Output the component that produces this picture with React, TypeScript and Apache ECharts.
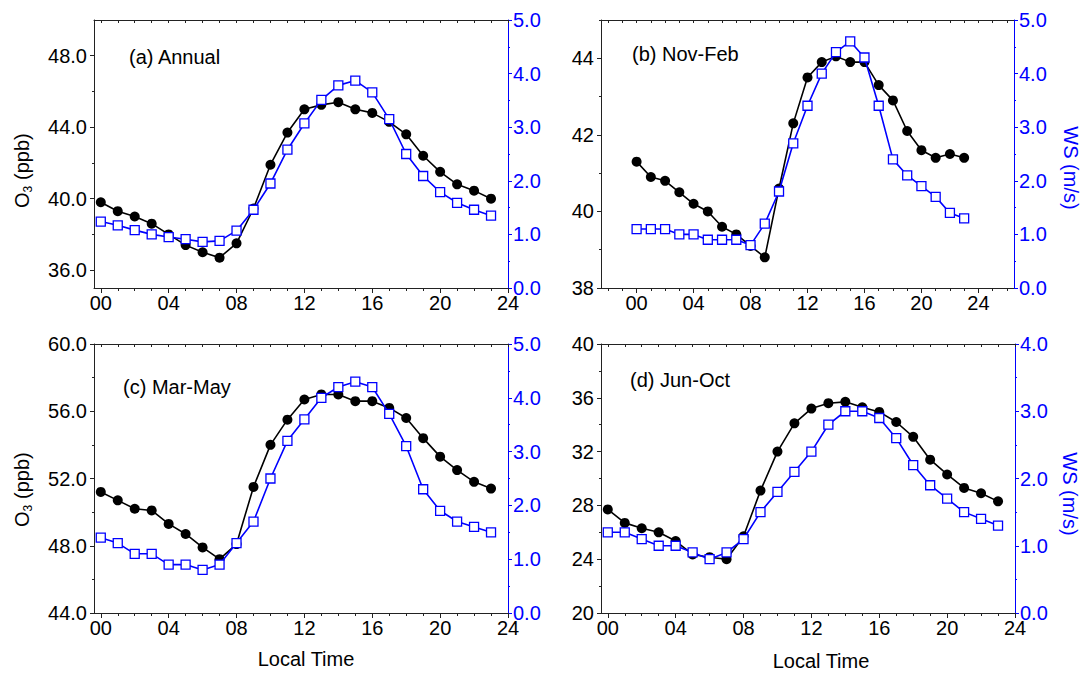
import React, { useEffect, useRef } from 'react';
import * as echarts from 'echarts';

// ---------- data ----------
const HOURS = [0, 1, 2, 3, 4, 5, 6, 7, 8, 9, 10, 11, 12, 13, 14, 15, 16, 17, 18, 19, 20, 21, 22, 23];
const X_TICKS = [0, 4, 8, 12, 16, 20, 24];

const O3_ANNUAL = [39.8, 39.3, 39.0, 38.6, 38.0, 37.4, 37.0, 36.7, 37.5, 39.45, 41.9, 43.7, 45.0, 45.25, 45.4, 45.0, 44.8, 44.3, 43.6, 42.4, 41.5, 40.8, 40.45, 40.0];
const WS_ANNUAL = [1.24, 1.17, 1.08, 1.0, 0.95, 0.91, 0.86, 0.88, 1.07, 1.46, 1.95, 2.58, 3.07, 3.51, 3.78, 3.87, 3.65, 3.15, 2.5, 2.09, 1.79, 1.59, 1.46, 1.35];

const O3_NOVFEB = [41.3, 40.9, 40.8, 40.5, 40.2, 40.0, 39.6, 39.4, 39.1, 38.8, 40.6, 42.3, 43.5, 43.9, 44.05, 43.9, 43.9, 43.3, 42.9, 42.1, 41.6, 41.4, 41.5, 41.4];
const WS_NOVFEB = [1.1, 1.1, 1.1, 1.0, 1.0, 0.9, 0.9, 0.9, 0.8, 1.2, 1.8, 2.7, 3.4, 4.0, 4.4, 4.6, 4.3, 3.4, 2.4, 2.1, 1.9, 1.7, 1.4, 1.3];

const O3_MARMAY = [51.2, 50.7, 50.2, 50.1, 49.3, 48.7, 47.9, 47.2, 48.1, 51.5, 54.0, 55.5, 56.7, 57.0, 57.0, 56.6, 56.6, 56.2, 55.6, 54.4, 53.3, 52.5, 51.8, 51.4];
const WS_MARMAY = [1.4, 1.3, 1.1, 1.1, 0.9, 0.9, 0.8, 0.9, 1.3, 1.7, 2.5, 3.2, 3.6, 4.0, 4.2, 4.3, 4.2, 3.7, 3.1, 2.3, 1.9, 1.7, 1.6, 1.5];

const O3_JUNOCT = [27.7, 26.7, 26.3, 26.0, 25.35, 24.35, 24.15, 24.0, 25.7, 29.1, 32.0, 34.1, 35.2, 35.6, 35.7, 35.3, 34.95, 34.2, 33.1, 31.4, 30.3, 29.3, 28.9, 28.3];
const WS_JUNOCT = [1.2, 1.2, 1.1, 1.0, 1.0, 0.9, 0.8, 0.9, 1.1, 1.5, 1.8, 2.1, 2.4, 2.8, 3.0, 3.0, 2.9, 2.6, 2.2, 1.9, 1.7, 1.5, 1.4, 1.3];

const TITLES = ['(a) Annual', '(b) Nov-Feb', '(c) Mar-May', '(d) Jun-Oct'];
const O3_LABELS_A = [36, 40, 44, 48];
const O3_MINOR_A = [38, 42, 46];
const O3_LABELS_B = [38, 40, 42, 44];
const O3_MINOR_B = [39, 41, 43, 45];
const O3_LABELS_C = [44, 48, 52, 56, 60];
const O3_MINOR_C = [46, 50, 54, 58];
const O3_LABELS_D = [20, 24, 28, 32, 36, 40];
const O3_MINOR_D = [22, 26, 30, 34, 38];
const WS_LABELS_5 = [0, 1, 2, 3, 4, 5];
const WS_MINOR_5 = [0.5, 1.5, 2.5, 3.5, 4.5];
const WS_LABELS_4 = [0, 1, 2, 3, 4];
const WS_MINOR_4 = [0.5, 1.5, 2.5, 3.5];

const FONT = '"Liberation Sans", Arial, Helvetica, sans-serif';
const BLUE = '#0000FF';
const DARK = '#222222';

const PANELS = [
  { title: TITLES[0], o3: O3_ANNUAL, ws: WS_ANNUAL, o3Min: 35, o3Max: 50, o3Labels: O3_LABELS_A, o3Minor: O3_MINOR_A, dec: 1, wsMax: 5, wsLabels: WS_LABELS_5, wsMinor: WS_MINOR_5, xMin: -0.4, xMax: 24 },
  { title: TITLES[1], o3: O3_NOVFEB, ws: WS_NOVFEB, o3Min: 38, o3Max: 45, o3Labels: O3_LABELS_B, o3Minor: O3_MINOR_B, dec: 0, wsMax: 5, wsLabels: WS_LABELS_5, wsMinor: WS_MINOR_5, xMin: -2.5, xMax: 26.5 },
  { title: TITLES[2], o3: O3_MARMAY, ws: WS_MARMAY, o3Min: 44, o3Max: 60, o3Labels: O3_LABELS_C, o3Minor: O3_MINOR_C, dec: 1, wsMax: 5, wsLabels: WS_LABELS_5, wsMinor: WS_MINOR_5, xMin: -0.4, xMax: 24 },
  { title: TITLES[3], o3: O3_JUNOCT, ws: WS_JUNOCT, o3Min: 20, o3Max: 40, o3Labels: O3_LABELS_D, o3Minor: O3_MINOR_D, dec: 0, wsMax: 4, wsLabels: WS_LABELS_4, wsMinor: WS_MINOR_4, xMin: -0.4, xMax: 24 },
];

// ---------- layout ----------
const LAYOUT = [
  { left: 94, top: 20, width: 414, height: 268, titleX: 129, titleY: 57 },
  { left: 601, top: 20, width: 413, height: 268, titleX: 632, titleY: 54 },
  { left: 94, top: 344, width: 414, height: 269, titleX: 123, titleY: 387 },
  { left: 601, top: 344, width: 414, height: 269, titleX: 630, titleY: 380 },
];

function hourly(min: number, max: number) {
  const out: number[] = [];
  for (let h = Math.ceil(min); h <= Math.floor(max); h++) out.push(h);
  return out;
}

function buildOption() {
  const grid: any[] = [];
  const xAxis: any[] = [];
  const yAxis: any[] = [];
  const series: any[] = [];
  const graphic: any[] = [];

  PANELS.forEach((p, i) => {
    const L = LAYOUT[i];
    grid.push({ left: L.left, top: L.top, width: L.width, height: L.height, containLabel: false, outerBoundsMode: 'none' });
    const hrs = hourly(p.xMin, p.xMax);
    // bottom major
    xAxis.push({
      type: 'value', gridIndex: i, position: 'bottom', min: p.xMin, max: p.xMax,
      axisLine: { show: true, onZero: false, lineStyle: { color: DARK, width: 1 } },
      axisTick: { show: true, inside: false, length: 5, customValues: X_TICKS, lineStyle: { color: DARK, width: 1 } },
      axisLabel: { show: true, customValues: X_TICKS, margin: 5, fontSize: 20, fontFamily: FONT, color: '#000',
        formatter: (v: number) => String(Math.round(v)).padStart(2, '0') },
      splitLine: { show: false },
    });
    // bottom minor
    xAxis.push({
      type: 'value', gridIndex: i, position: 'bottom', min: p.xMin, max: p.xMax,
      axisLine: { show: false, onZero: false },
      axisTick: { show: true, inside: false, length: 3, customValues: hrs, lineStyle: { color: DARK, width: 1 } },
      axisLabel: { show: false },
      splitLine: { show: false },
    });
    // top frame
    xAxis.push({
      type: 'value', gridIndex: i, position: 'top', min: p.xMin, max: p.xMax,
      axisLine: { show: true, onZero: false, lineStyle: { color: DARK, width: 1 } },
      axisTick: { show: true, inside: true, length: 3, customValues: hrs, lineStyle: { color: DARK, width: 1 } },
      axisLabel: { show: false },
      splitLine: { show: false },
    });
    // left major
    yAxis.push({
      type: 'value', gridIndex: i, position: 'left', min: p.o3Min, max: p.o3Max,
      axisLine: { show: true, onZero: false, lineStyle: { color: DARK, width: 1 } },
      axisTick: { show: true, inside: false, length: 4, customValues: p.o3Labels, lineStyle: { color: DARK, width: 1 } },
      axisLabel: { show: true, customValues: p.o3Labels, margin: 7, fontSize: 20, fontFamily: FONT, color: '#000',
        formatter: (v: number) => v.toFixed(p.dec) },
      splitLine: { show: false },
    });
    // left minor
    yAxis.push({
      type: 'value', gridIndex: i, position: 'left', min: p.o3Min, max: p.o3Max,
      axisLine: { show: false, onZero: false },
      axisTick: { show: true, inside: false, length: 2, customValues: p.o3Minor, lineStyle: { color: DARK, width: 1 } },
      axisLabel: { show: false },
      splitLine: { show: false },
    });
    // right major (WS)
    yAxis.push({
      type: 'value', gridIndex: i, position: 'right', min: 0, max: p.wsMax,
      axisLine: { show: true, onZero: false, lineStyle: { color: BLUE, width: 1 } },
      axisTick: { show: true, inside: false, length: 4, customValues: p.wsLabels, lineStyle: { color: BLUE, width: 1 } },
      axisLabel: { show: true, customValues: p.wsLabels, margin: 5, fontSize: 20, fontFamily: FONT, color: BLUE,
        formatter: (v: number) => v.toFixed(1) },
      splitLine: { show: false },
    });
    // right minor
    yAxis.push({
      type: 'value', gridIndex: i, position: 'right', min: 0, max: p.wsMax,
      axisLine: { show: false, onZero: false },
      axisTick: { show: true, inside: false, length: 2, customValues: p.wsMinor, lineStyle: { color: BLUE, width: 1 } },
      axisLabel: { show: false },
      splitLine: { show: false },
    });

    series.push({
      type: 'line', name: 'O3', xAxisIndex: i * 3, yAxisIndex: i * 4,
      data: HOURS.map((h, k) => [h, p.o3[k]]),
      symbol: 'circle', symbolSize: 10, showSymbol: true,
      lineStyle: { color: '#000', width: 1.6 },
      itemStyle: { color: '#000' },
      z: 2,
    });
    series.push({
      type: 'line', name: 'WS', xAxisIndex: i * 3, yAxisIndex: i * 4 + 2,
      data: HOURS.map((h, k) => [h, p.ws[k]]),
      symbol: 'rect', symbolSize: 9, showSymbol: true,
      lineStyle: { color: BLUE, width: 1.6 },
      itemStyle: { color: '#fff', borderColor: BLUE, borderWidth: 1.3 },
      z: 3,
    });

    graphic.push({
      type: 'text', x: L.titleX, y: L.titleY,
      style: { text: p.title, fill: '#000', font: `20px ${FONT}`, textAlign: 'left', textVerticalAlign: 'middle', align: 'left', verticalAlign: 'middle' },
    });
  });

  // O3 (ppb) titles
  const o3Title = (x: number, y: number) => ({
    type: 'group', x, y, rotation: Math.PI / 2,
    children: [
      { type: 'text', x: -37, y: 0, style: { text: 'O', fill: '#000', font: `20px ${FONT}`, textAlign: 'left', textVerticalAlign: 'middle', align: 'left', verticalAlign: 'middle' } },
      { type: 'text', x: -21.5, y: 6, style: { text: '3', fill: '#000', font: `12px ${FONT}`, textAlign: 'left', textVerticalAlign: 'middle', align: 'left', verticalAlign: 'middle' } },
      { type: 'text', x: -14.5, y: 0, style: { text: ' (ppb)', fill: '#000', font: `20px ${FONT}`, textAlign: 'left', textVerticalAlign: 'middle', align: 'left', verticalAlign: 'middle' } },
    ],
  });
  graphic.push(o3Title(22, 171));
  graphic.push(o3Title(22, 490));

  const wsTitle = (x: number, y: number) => ({
    type: 'text', x, y, rotation: -Math.PI / 2,
    style: { text: 'WS (m/s)', fill: BLUE, font: `20px ${FONT}`, textAlign: 'center', textVerticalAlign: 'middle', align: 'center', verticalAlign: 'middle' },
  });
  graphic.push(wsTitle(1071, 168));
  graphic.push(wsTitle(1070, 494));

  const xTitle = (x: number, y: number) => ({
    type: 'text', x, y,
    style: { text: 'Local Time', fill: '#000', font: `20px ${FONT}`, textAlign: 'center', textVerticalAlign: 'middle', align: 'center', verticalAlign: 'middle' },
  });
  graphic.push(xTitle(306, 659));
  graphic.push(xTitle(821, 661));

  return {
    animation: false,
    backgroundColor: '#fff',
    textStyle: { fontFamily: FONT },
    grid, xAxis, yAxis, series,
    graphic: { elements: graphic },
  };
}

export default function App() {
  const ref = useRef<HTMLDivElement>(null);
  useEffect(() => {
    if (!ref.current) return;
    document.body.style.margin = '0';
    const chart = echarts.init(ref.current, undefined, { renderer: 'svg' });
    chart.setOption(buildOption() as any);
    return () => chart.dispose();
  }, []);
  return <div ref={ref} style={{ position: 'absolute', left: 0, top: 0, width: 1090, height: 678 }} />;
}
